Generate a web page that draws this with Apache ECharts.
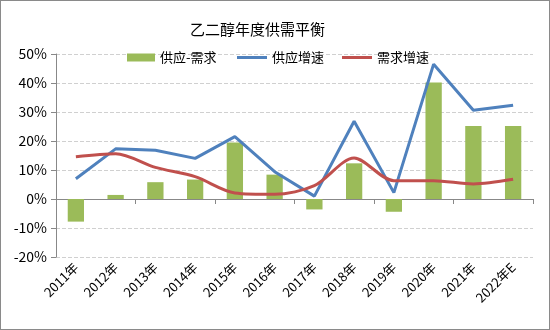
<!DOCTYPE html>
<html><head><meta charset="utf-8">
<script src="https://cdn.jsdelivr.net/npm/echarts@6/dist/echarts.min.js"></script>
<style>
html,body{margin:0;padding:0;background:#fff;}
#wrap{width:550px;height:330px;box-sizing:border-box;border:1px solid #8a8a8a;}
#c{width:548px;height:328px;}
</style></head>
<body><div id="wrap"><div id="c"></div></div>
<script>
const categories = ['2011年','2012年','2013年','2014年','2015年','2016年','2017年','2018年','2019年','2020年','2021年','2022年E'];
const balance = [-7.8, 1.4, 5.8, 6.7, 19.5, 8.4, -3.6, 12.3, -4.4, 40.2, 25.2, 25.2];
const supplyGrowth = [7.0, 17.3, 16.8, 14.0, 21.5, 9.4, 1.0, 26.8, 2.2, 46.5, 30.6, 32.3];
const demandGrowth = [14.6, 15.6, 10.9, 7.7, 2.1, 1.6, 4.6, 14.1, 6.3, 6.3, 5.2, 6.8];
const yTicks = [-20, -10, 0, 10, 20, 30, 40, 50];

const font = '"Noto Sans CJK SC", "Liberation Sans", sans-serif';
const chart = echarts.init(document.getElementById('c'));
chart.setOption({
  animation: false,
  textStyle: {fontFamily: font, color: '#000'},
  title: {text: '乙二醇年度供需平衡', left: 184, top: 16,
    textStyle: {fontFamily: font, fontSize: 15, fontWeight: 'normal', color: '#000'}},
  legend: [
    {top: 45, left: 121, itemWidth: 28, itemHeight: 8, icon: 'rect',
     textStyle: {fontFamily: font, fontSize: 13, color: '#000'},
     data: ['供应-需求']},
    {top: 45, left: 231, itemWidth: 30, itemHeight: 3, icon: 'rect', itemGap: 18,
     textStyle: {fontFamily: font, fontSize: 13, color: '#000'},
     data: ['供应增速', '需求增速']}
  ],
  grid: {left: 55, right: 16, top: 53, bottom: 72},
  xAxis: [
    {type: 'category', data: categories, axisLine: {onZero: true, lineStyle: {color: '#888'}},
     axisTick: {show: true, length: 5, lineStyle: {color: '#888'}}, axisLabel: {show: false}},
    {type: 'category', data: categories, position: 'bottom', axisLine: {show: false, onZero: false},
     axisTick: {show: false},
     axisLabel: {rotate: 45, fontSize: 13, color: '#000', margin: 8, interval: 0, fontFamily: font}}
  ],
  yAxis: {type: 'value', min: -20, max: 50, interval: 10,
    axisLine: {show: true, lineStyle: {color: '#888'}},
    axisTick: {show: true, length: 5, lineStyle: {color: '#888'}},
    axisLabel: {formatter: v => yTicks.includes(v) ? v + '%' : '', fontSize: 14, color: '#000', margin: 9},
    splitLine: {lineStyle: {type: 'dashed', color: '#d0d0d0'}}},
  series: [
    {name: '供应-需求', type: 'bar', data: balance, barWidth: '41%', itemStyle: {color: '#9BBB59'}},
    {name: '供应增速', type: 'line', data: supplyGrowth, symbol: 'none',
     lineStyle: {color: '#4F81BD', width: 3}, itemStyle: {color: '#4F81BD'}},
    {name: '需求增速', type: 'line', data: demandGrowth, symbol: 'none', smooth: 0.3,
     lineStyle: {color: '#C0504D', width: 3}, itemStyle: {color: '#C0504D'}}
  ]
});
</script></body></html>
